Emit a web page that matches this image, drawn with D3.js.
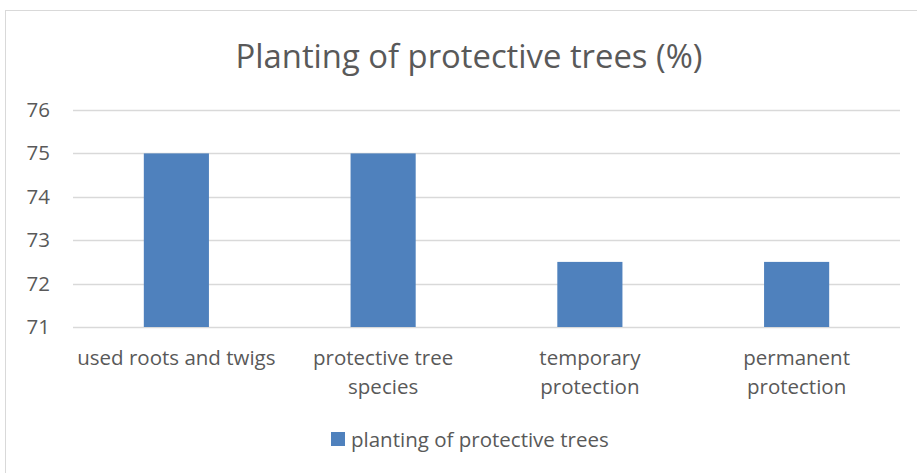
<!DOCTYPE html>
<html>
<head>
<meta charset="utf-8">
<script src="https://cdn.jsdelivr.net/npm/d3@7"></script>
<style>
  body { margin: 0; background: #fff; }
  text { font-family: "Open Sans", sans-serif; fill: #595959; }
</style>
</head>
<body>
<div id="container"></div>
<script>
/* DATA */
const categories = [
  ["used roots and twigs"],
  ["protective tree", "species"],
  ["temporary", "protection"],
  ["permanent", "protection"]
];
const values = [75, 75, 72.5, 72.5];
const yTicks = [71, 72, 73, 74, 75, 76];
const seriesName = "planting of protective trees";

const width = 917, height = 473;
const margin = { top: 110, bottom: 146, left: 73, right: 17 };

const svg = d3.select("#container")
  .append("svg")
  .attr("width", width)
  .attr("height", height);

// chart border
svg.append("rect")
  .attr("x", 5.5).attr("y", 10.5)
  .attr("width", width - 3).attr("height", height)
  .attr("fill", "none")
  .attr("stroke", "#d9d9d9");

// scales
const xScale = d3.scaleBand()
  .domain(d3.range(categories.length))
  .range([margin.left, width - margin.right])
  .padding(0);

const yScale = d3.scaleLinear()
  .domain([71, 76])
  .range([height - margin.bottom, margin.top]);

// gridlines
svg.selectAll(".grid")
  .data(yTicks)
  .join("line")
  .attr("class", "grid")
  .attr("x1", margin.left)
  .attr("x2", width - margin.right)
  .attr("y1", d => Math.round(yScale(d)) + 0.5)
  .attr("y2", d => Math.round(yScale(d)) + 0.5)
  .attr("stroke", "#d9d9d9")
  .attr("stroke-width", 1.5);

// y axis labels
const yAxis = d3.axisLeft(yScale)
  .tickValues(yTicks)
  .tickFormat(d3.format("d"))
  .tickSize(0)
  .tickPadding(0);
const yg = svg.append("g")
  .attr("transform", `translate(50,0)`)
  .call(yAxis);
yg.select(".domain").remove();
yg.selectAll("text")
  .attr("font-size", 20.5)
  .attr("fill", "#595959")
  .attr("font-family", "Open Sans, sans-serif");

// bars
const barW = xScale.bandwidth() * 0.315;
svg.selectAll(".bar")
  .data(values)
  .join("rect")
  .attr("class", "bar")
  .attr("x", (d, i) => xScale(i) + xScale.bandwidth() / 2 - barW / 2)
  .attr("y", d => yScale(d))
  .attr("width", barW)
  .attr("height", d => yScale(71) - yScale(d))
  .attr("fill", "#4f81bd");

// category labels
const catG = svg.selectAll(".cat")
  .data(categories)
  .join("text")
  .attr("class", "cat")
  .attr("text-anchor", "middle")
  .attr("font-size", 20.5)
  .attr("x", (d, i) => xScale(i) + xScale.bandwidth() / 2);
catG.selectAll("tspan")
  .data(d => d)
  .join("tspan")
  .attr("x", function () { return this.parentNode.getAttribute("x"); })
  .attr("y", (d, i) => yScale(71) + 38 + i * 29)
  .text(d => d);

// title
svg.append("text")
  .attr("x", 469)
  .attr("y", 68)
  .attr("text-anchor", "middle")
  .attr("font-size", 32.8)
  .text("Planting of protective trees (%)");

// legend
const legend = svg.append("g").attr("transform", "translate(331,432)");
legend.append("rect")
  .attr("width", 14).attr("height", 14)
  .attr("fill", "#4f81bd");
legend.append("text")
  .attr("x", 20).attr("y", 15)
  .attr("font-size", 20.5)
  .text(seriesName);
</script>
</body>
</html>
